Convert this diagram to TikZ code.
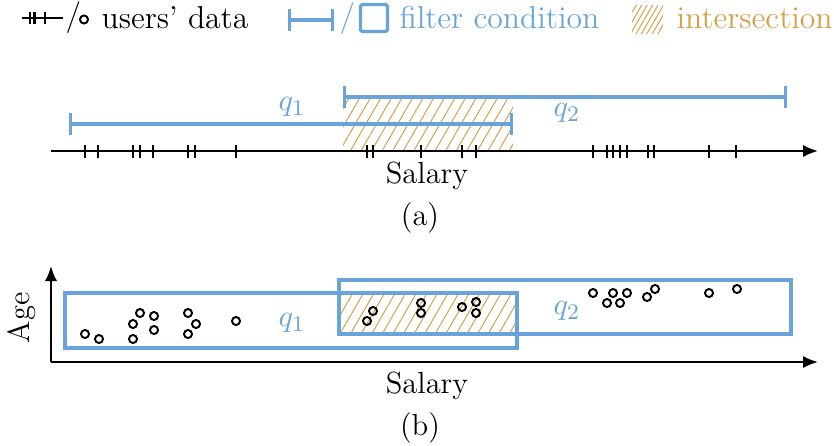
\documentclass[tikz,border=0pt]{standalone}
\usetikzlibrary{arrows.meta,patterns.meta}
\definecolor{qblue}{RGB}{104,164,217}
\definecolor{qorange}{RGB}{212,160,72}
\tikzset{
  txt/.style={inner sep=0pt, font=\fontsize{11}{13}\selectfont},
  lgtxt/.style={inner sep=0pt, font=\fontsize{11.4}{13}\selectfont},
  qlbl/.style={inner sep=0pt, text=qblue, font=\fontsize{11}{13}\selectfont},
  axis/.style={line width=0.75pt, -{Latex[length=5.4pt,width=4.4pt]}},
  tk/.style={line width=0.75pt},
  bar/.style={draw=qblue, line width=1.2pt, |-|},
  qbox/.style={draw=qblue, line width=1.2pt},
  hatch/.style={pattern={Lines[angle=60,distance=3.3pt,line width=0.35pt]}, pattern color=qorange},
  hatchs/.style={pattern={Lines[angle=60,distance=1.7pt,line width=0.35pt]}, pattern color=qorange},
  dot/.style={circle, draw, line width=0.7pt, minimum size=2.9pt, inner sep=0pt},
}
\begin{document}
\begin{tikzpicture}[x=0.36pt,y=-0.36pt]
\useasboundingbox (0,0) rectangle (834,446);
% ---------- legend ----------
\coordinate (lgA) at (22,18);
\coordinate (lgB) at (63,18);
\draw[tk] (lgA) -- (lgB);
\foreach \x in {30,34.5,45} \draw[tk] (\x,12) -- (\x,24);
\node[lgtxt, anchor=west] (slash1) at (65,18) {/};
\node[dot] (lgdot) at (84,19.5) {};
\node[lgtxt, anchor=west] (lgusers) at (101,18) {users' data};
\coordinate (lgbarA) at (288,20);
\coordinate (lgbarB) at (334,20);
\draw[bar] (lgbarA) -- (lgbarB);
\node[lgtxt, anchor=west, text=qblue] (slash2) at (339,19) {/};
\node[qbox, rounded corners=0.6pt, minimum width=27*0.36pt, minimum height=27*0.36pt, inner sep=0pt] (lgbox) at (374,18) {};
\node[lgtxt, anchor=west, text=qblue] (lgfilter) at (399,18) {filter condition};
\path[hatchs] (632,5) rectangle (663,33);
\node[lgtxt, anchor=west, text=qorange] (lginter) at (676,18) {intersection};
% ---------- (a) ----------
\path[hatch] (343,97) rectangle (513,151);
\coordinate (axA0) at (51,151);
\coordinate (axA1) at (818,151);
\draw[axis] (axA0) -- (axA1);
\foreach \x in {85,98,133,140,153,188,195,236,367,373,421,462,476,593,607,613,620,627,648,654,709,736}
  \draw[tk] (\x,145) -- (\x,158);
\coordinate (q1a) at (69,124);
\coordinate (q1b) at (513,124);
\draw[bar] (q1a) -- (q1b);
\coordinate (q2a) at (343,97);
\coordinate (q2b) at (787,97);
\draw[bar] (q2a) -- (q2b);
\node[qlbl] (q1lab) at (292,107) {$q_1$};
\node[qlbl] (q2lab) at (567,113) {$q_2$};
\node[txt] (salA) at (427,176) {Salary};
\node[txt] (capA) at (420,218) {(a)};
% ---------- (b) ----------
\path[hatch] (339,293) rectangle (517,334);
\draw[qbox] (65,293) rectangle (517,348);
\draw[qbox] (339,280) rectangle (791,334);
\coordinate (o) at (51,362);
\coordinate (yb) at (51,266);
\coordinate (xb) at (818,362);
\draw[axis] (o) -- (yb);
\draw[axis] (o) -- (xb);
\foreach \x/\y [count=\i] in {85/334,99/339,133/324,140/313,154/316,154/330,133/339,188/313,196/324,188/334,236/321,
  367/321,373/311,421/303,421/313,462/307,476/302,476/313,
  593/293,607/303,613/293,620/303,627/293,647/297,655/289,709/293,737/289}
  \node[dot] (d\i) at (\x,\y) {};
\node[qlbl] (q1labb) at (292,323) {$q_1$};
\node[qlbl] (q2labb) at (567,311) {$q_2$};
\node[txt, rotate=90] (age) at (22,318) {Age};
\node[txt] (salB) at (427,386) {Salary};
\node[txt] (capB) at (420,428) {(b)};
\end{tikzpicture}
\end{document}
